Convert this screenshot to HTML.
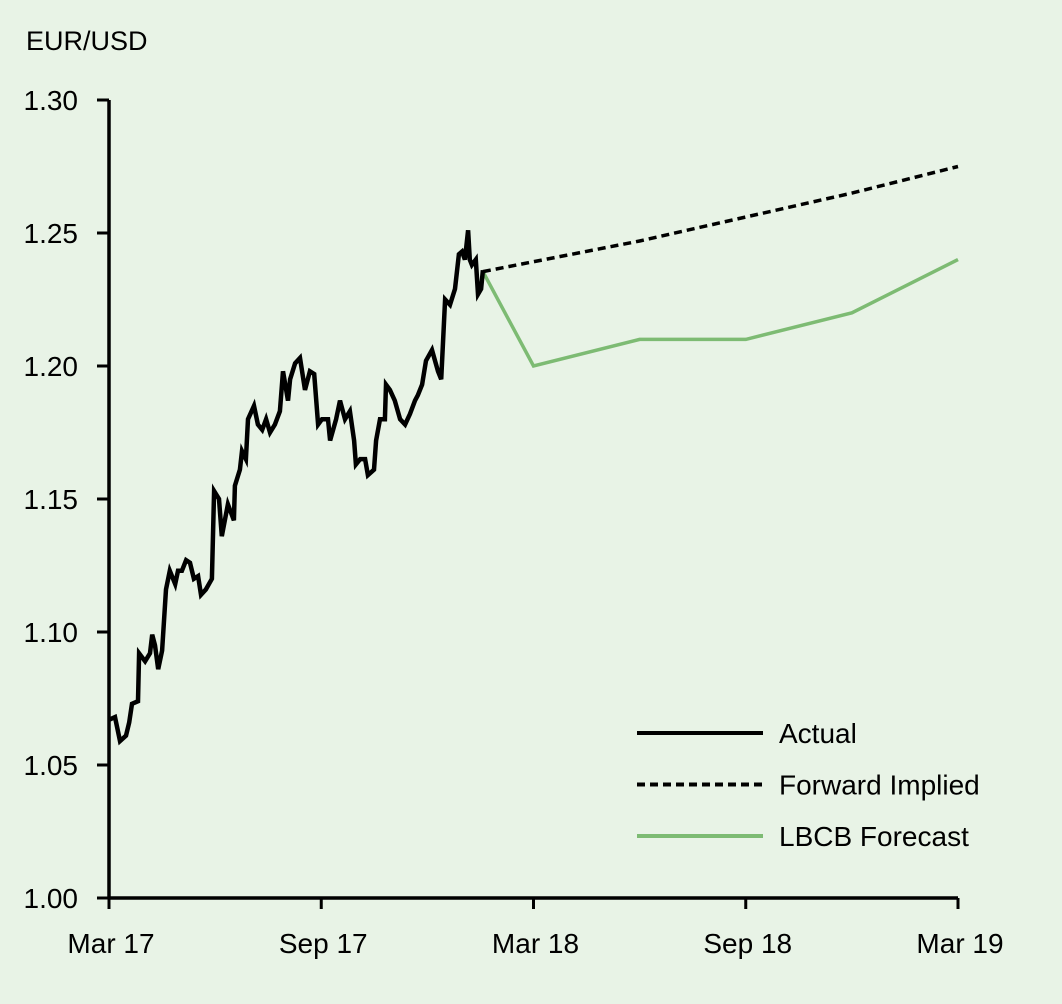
<!DOCTYPE html>
<html><head><meta charset="utf-8"><style>
body{margin:0;background:#e8f3e6;}
svg{display:block;font-family:"Liberation Sans",sans-serif;}
</style></head><body>
<svg id="chart" width="1062" height="1004" viewBox="0 0 1062 1004">
<rect width="1062" height="1004" fill="#e8f3e6"/>
<text x="26" y="50" font-size="27" fill="#000">EUR/USD</text>
<g id="axes"></g>
<g id="series"></g>
<g id="legend"></g>
</svg>
<script>
const yTicks=[1.00,1.05,1.10,1.15,1.20,1.25,1.30];
const yTickLabels=["1.00","1.05","1.10","1.15","1.20","1.25","1.30"];
const xTicks=[0,6,12,18,24];
const xTickLabels=["Mar 17","Sep 17","Mar 18","Sep 18","Mar 19"];
const actualMonths=[0,.17,.31,.48,.57,.65,.82,.85,1.02,1.16,1.22,1.30,1.39,1.50,1.61,1.72,1.87,1.95,2.06,2.18,2.29,2.40,2.52,2.60,2.74,2.91,2.97,3.11,3.19,3.36,3.53,3.56,3.70,3.76,3.87,3.93,4.10,4.21,4.33,4.44,4.55,4.69,4.83,4.92,5.06,5.12,5.26,5.40,5.54,5.68,5.80,5.91,6.02,6.19,6.25,6.42,6.53,6.67,6.81,6.93,6.98,7.10,7.24,7.32,7.49,7.55,7.66,7.80,7.83,7.94,8.08,8.23,8.37,8.51,8.65,8.73,8.85,8.96,9.13,9.30,9.39,9.50,9.64,9.78,9.89,9.98,10.06,10.15,10.20,10.26,10.37,10.43,10.52,10.57];
const actualValues=[1.067,1.068,1.059,1.061,1.066,1.073,1.074,1.092,1.089,1.092,1.099,1.095,1.086,1.093,1.116,1.123,1.118,1.123,1.123,1.127,1.126,1.120,1.121,1.114,1.116,1.120,1.153,1.150,1.136,1.148,1.142,1.155,1.161,1.168,1.165,1.180,1.185,1.178,1.176,1.180,1.175,1.178,1.183,1.198,1.187,1.195,1.201,1.203,1.191,1.198,1.197,1.178,1.180,1.180,1.172,1.180,1.187,1.180,1.183,1.172,1.163,1.165,1.165,1.159,1.161,1.172,1.180,1.180,1.193,1.191,1.187,1.180,1.178,1.182,1.187,1.189,1.193,1.202,1.206,1.198,1.195,1.225,1.223,1.229,1.242,1.243,1.240,1.251,1.240,1.238,1.240,1.227,1.229,1.236];
const fwdMonths=[10.57,15,18,21,24];
const fwdValues=[1.2355,1.247,1.256,1.265,1.275];
const fcMonths=[10.57,12,15,18,21,24];
const fcValues=[1.2355,1.200,1.210,1.210,1.220,1.240];

const NS="http://www.w3.org/2000/svg";
const X0=109,X1=958,Y0=898,Y1=100;
function xs(m){return X0+(m/24)*(X1-X0);}
function ys(v){return Y0-(v-1.0)/0.30*(Y0-Y1);}
function mk(tag,attrs,parent){const e=document.createElementNS(NS,tag);for(const k in attrs)e.setAttribute(k,attrs[k]);parent.appendChild(e);return e;}
const axes=document.getElementById('axes'),series=document.getElementById('series'),legend=document.getElementById('legend');

let a=mk('line',{x1:X0,y1:Y1,x2:X0,y2:Y0,stroke:'#000','stroke-width':3.5},axes);


a=mk('line',{x1:X0,y1:Y0,x2:X1,y2:Y0,stroke:'#000','stroke-width':3.5},axes);


yTicks.forEach((v,i)=>{
  const t=mk('line',{x1:97,y1:ys(v),x2:X0,y2:ys(v),stroke:'#000','stroke-width':3},axes);
  
  
  const l=mk('text',{x:78,y:ys(v)+10,'font-size':28,'text-anchor':'end'},axes);
  l.textContent=yTickLabels[i];
  
  
});
xTicks.forEach((m,i)=>{
  const t=mk('line',{x1:xs(m),y1:Y0,x2:xs(m),y2:909,stroke:'#000','stroke-width':3},axes);
  
  
  const l=mk('text',{x:xs(m)+2,y:953,'font-size':28,'text-anchor':'middle'},axes);
  l.textContent=xTickLabels[i];
  
  
});
function pts(ms,vs){return ms.map((m,i)=>xs(m).toFixed(1)+','+ys(vs[i]).toFixed(1)).join(' ');}
let p=mk('polyline',{points:pts(fcMonths,fcValues),fill:'none',stroke:'#7dbb73','stroke-width':3.5},series);


p=mk('polyline',{points:pts(fwdMonths,fwdValues),fill:'none',stroke:'#000','stroke-width':3.5,'stroke-dasharray':'8,5'},series);


p=mk('polyline',{points:pts(actualMonths,actualValues),fill:'none',stroke:'#000','stroke-width':4.5,'stroke-linejoin':'miter'},series);



const leg=[["Actual","#000",""],["Forward Implied","#000","8,5"],["LBCB Forecast","#7dbb73",""]];
leg.forEach((d,i)=>{
  const y=733+i*51.5;
  const g=mk('g',{},legend);
  
  
  const ln=mk('line',{x1:637,y1:y,x2:763,y2:y,stroke:d[1],'stroke-width':4,'stroke-dasharray':d[2]||'none'},g);
  
  
  const t=mk('text',{x:779,y:y+10,'font-size':28},g);
  t.textContent=d[0];
  
  
});
</script>
</body></html>
